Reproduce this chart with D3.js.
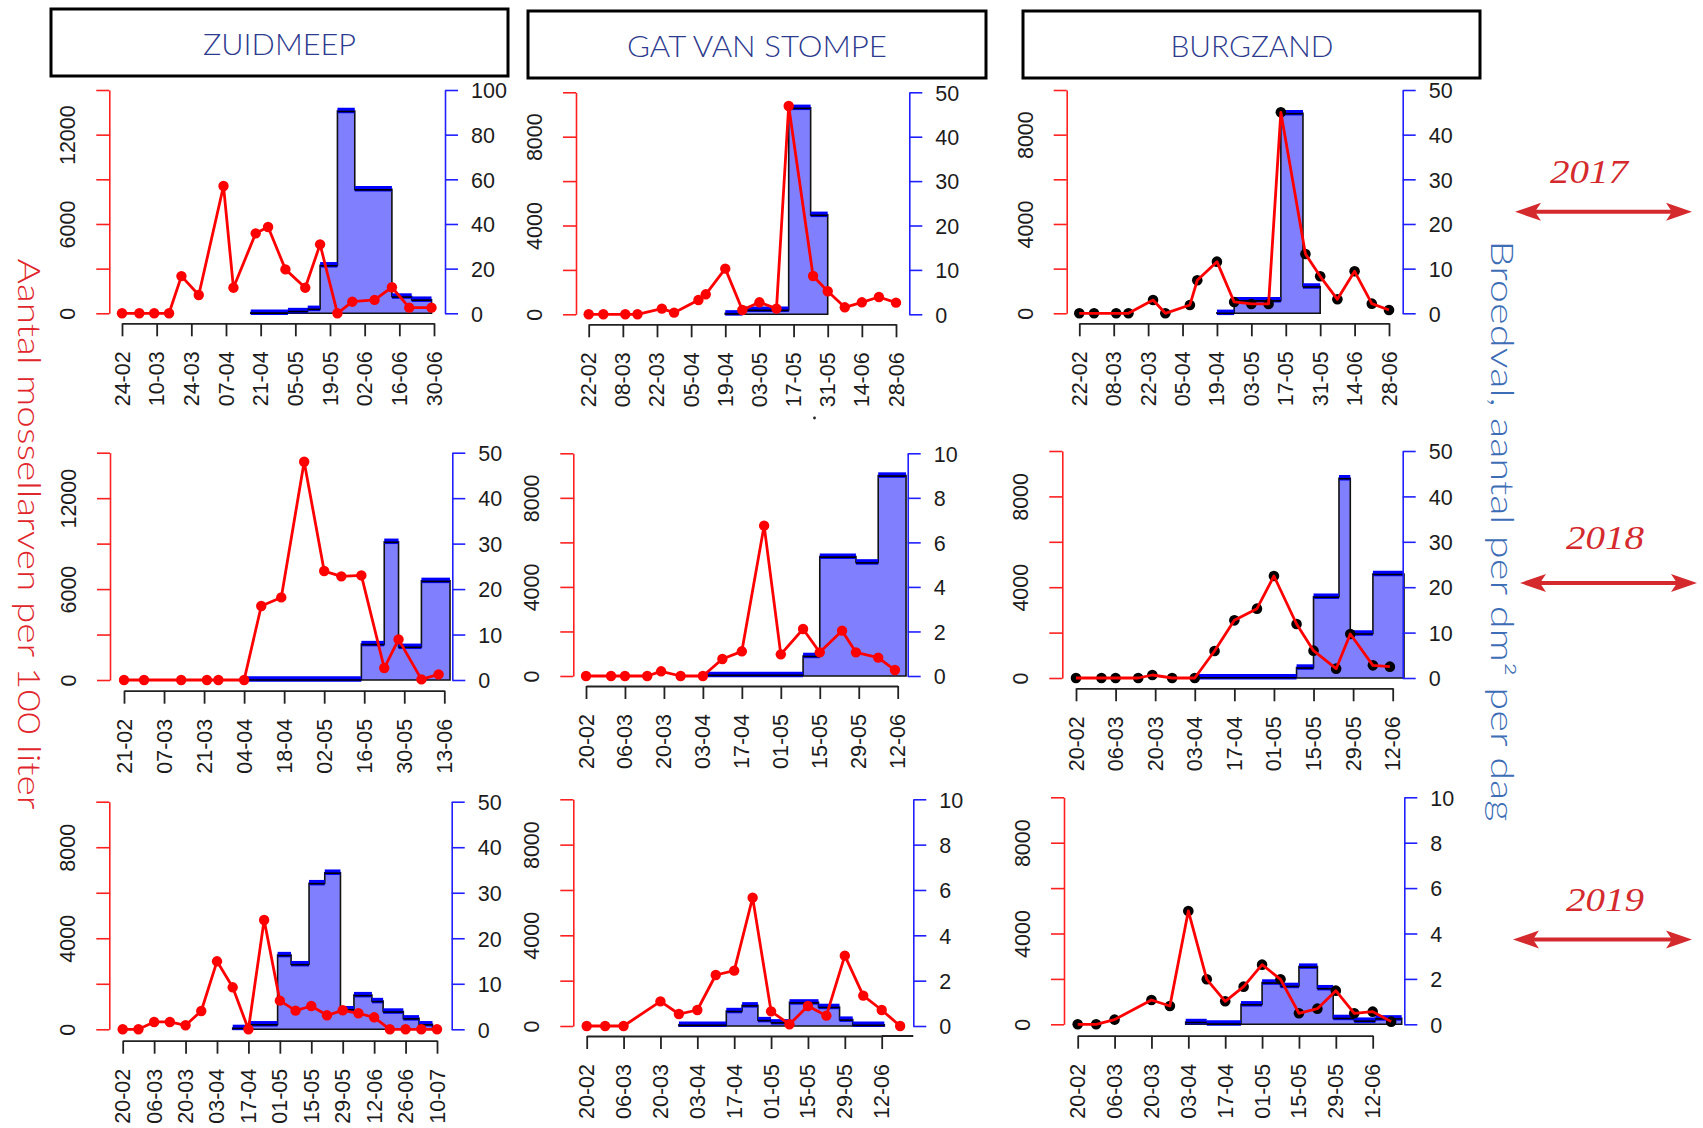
<!DOCTYPE html>
<html><head><meta charset="utf-8">
<script src="https://cdn.jsdelivr.net/npm/d3@7"></script>
<style>body{margin:0;background:#fff}svg{display:block}</style>
</head><body>
<svg id="chart" width="1703" height="1128"></svg>
<script>
// ---------- DATA ----------
const sites = ["ZUIDMEEP", "GAT VAN STOMPE", "BURGZAND"];
const years = ["2017", "2018", "2019"];
const leftTitle = "Aantal mossellarven per 100 liter";
const rightTitle = "Broedval, aantal per dm\u00B2 per dag";

const redTicks15 = [0, 3000, 6000, 9000, 12000, 15000];
const redLabels15 = [0, 6000, 12000];
const redTicks10 = [0, 2000, 4000, 6000, 8000, 10000];
const redLabels10 = [0, 4000, 8000];
const blueTicks100 = [0, 20, 40, 60, 80, 100];
const blueTicks50 = [0, 10, 20, 30, 40, 50];
const blueTicks10 = [0, 2, 4, 6, 8, 10];

// 2017
const zm17Ticks = ["24-02","10-03","24-03","07-04","21-04","05-05","19-05","02-06","16-06","30-06"];
const zm17Dates = ["24-02","03-03","09-03","15-03","20-03","27-03","06-04","10-04","19-04","24-04","01-05","09-05","15-05","22-05","28-05","06-06","13-06","20-06","29-06"];
const zm17Larvae = [0,0,0,0,2500,1230,8550,1720,5370,5800,2950,1720,4630,0,780,900,1750,380,380];
const zm17SpatBreaks = ["17-04","02-05","10-05","15-05","22-05","29-05","13-06","21-06","29-06"];
const zm17Spat = [0.3,1,2,21.5,90.6,55.5,7.5,6.1];

const gvs17Ticks = ["22-02","08-03","22-03","05-04","19-04","03-05","17-05","31-05","14-06","28-06"];
const gvs17Dates = ["22-02","28-02","09-03","14-03","24-03","29-03","08-04","11-04","19-04","26-04","03-05","10-05","15-05","25-05","31-05","07-06","14-06","21-06","28-06"];
const gvs17Larvae = [0,0,0,0,255,75,645,900,2057,195,540,255,9384,1727,1036,315,540,780,525];
const gvs17SpatBreaks = ["19-04","26-04","15-05","24-05","31-05"];
const gvs17Spat = [0.2,1,46.5,22.4];

const bz17Ticks = ["22-02","08-03","22-03","05-04","19-04","03-05","17-05","31-05","14-06","28-06"];
const bz17Dates = ["22-02","28-02","09-03","14-03","24-03","29-03","08-04","11-04","19-04","26-04","03-05","10-05","15-05","25-05","31-05","07-06","14-06","21-06","28-06"];
const bz17Larvae = [0,0,0,0,597,0,373,1478,2313,507,418,418,9000,2657,1657,627,1881,433,149];
const bz17SpatBreaks = ["19-04","26-04","15-05","24-05","31-05"];
const bz17Spat = [0.1,2.9,44.8,6.0];

// 2018
const zm18Ticks = ["21-02","07-03","21-03","04-04","18-04","02-05","16-05","30-05","13-06"];
const zm18Dates = ["21-02","28-02","13-03","22-03","26-03","04-04","10-04","17-04","25-04","02-05","08-05","15-05","23-05","28-05","05-06","11-06"];
const zm18Larvae = [0,0,0,0,0,0,4880,5450,14400,7190,6840,6900,790,2680,40,370];
const zm18SpatBreaks = ["04-04","15-05","23-05","28-05","05-06","15-06"];
const zm18Spat = [0.1,7.9,30.4,7.3,21.8];

const gvs18Ticks = ["20-02","06-03","20-03","03-04","17-04","01-05","15-05","29-05","12-06"];
const gvs18Dates = ["20-02","01-03","06-03","14-03","19-03","26-03","03-04","10-04","17-04","25-04","01-05","09-05","15-05","23-05","28-05","05-06","11-06"];
const gvs18Larvae = [0,0,0,0,210,0,0,763,1108,6751,973,2111,1063,2036,1063,823,269];
const gvs18SpatBreaks = ["04-04","09-05","15-05","28-05","05-06","15-06"];
const gvs18Spat = [0.05,0.9,5.36,5.1,9.0];

const bz18Ticks = ["20-02","06-03","20-03","03-04","17-04","01-05","15-05","29-05","12-06"];
const bz18Dates = ["20-02","01-03","06-03","14-03","19-03","26-03","03-04","10-04","17-04","25-04","01-05","09-05","15-05","23-05","28-05","05-06","11-06"];
const bz18Larvae = [0,0,0,0,132,0,0,1189,2540,3054,4493,2379,1204,411,1938,558,499];
const bz18SpatBreaks = ["03-04","09-05","15-05","24-05","28-05","05-06","16-06"];
const bz18Spat = [0.15,2.3,17.9,44,9.8,22.9];

// 2019
const zm19Ticks = ["20-02","06-03","20-03","03-04","17-04","01-05","15-05","29-05","12-06","26-06","10-07"];
const zm19Dates = ["20-02","27-02","06-03","13-03","20-03","27-03","03-04","10-04","17-04","24-04","01-05","08-05","15-05","22-05","29-05","05-06","12-06","19-06","26-06","03-07","10-07"];
const zm19Larvae = [0,0,322,322,176,805,2987,1845,0,4802,1259,820,1025,615,835,703,527,0,0,0,0];
const zm19SpatBreaks = ["10-04","17-04","30-04","06-05","14-05","21-05","28-05","03-06","11-06","16-06","25-06","02-07","08-07"];
const zm19Spat = [0.3,1.1,16.3,14.3,32.1,34.4,4.4,7.5,6.2,3.9,2.4,1.1];

const gvs19Ticks = ["20-02","06-03","20-03","03-04","17-04","01-05","15-05","29-05","12-06"];
const gvs19Dates = ["20-02","27-02","06-03","20-03","27-03","03-04","10-04","17-04","24-04","01-05","08-05","15-05","22-05","29-05","05-06","12-06","19-06"];
const gvs19Larvae = [0,0,0,1088,529,706,2250,2441,5662,647,74,882,456,3103,1338,706,0];
const gvs19SpatBreaks = ["27-03","14-04","20-04","26-04","01-05","08-05","19-05","27-05","01-06","13-06"];
const gvs19Spat = [0.05,0.66,0.91,0.26,0.16,1.04,0.84,0.28,0.05];

const bz19Ticks = ["20-02","06-03","20-03","03-04","17-04","01-05","15-05","29-05","12-06"];
const bz19Dates = ["20-02","27-02","06-03","20-03","27-03","03-04","10-04","17-04","24-04","01-05","08-05","15-05","22-05","29-05","05-06","12-06","19-06"];
const bz19Larvae = [0,0,206,1072,808,4993,1982,1013,1659,2628,1982,485,690,1483,485,558,117];
const bz19SpatBreaks = ["02-04","10-04","23-04","01-05","08-05","15-05","22-05","28-05","05-06","13-06","23-06"];
const bz19Spat = [0.1,0.03,0.88,1.84,1.69,2.54,1.59,0.28,0.16,0.26];

// ---------- LAYOUT ----------
const panels = [
  {year:2017, ticks:zm17Ticks, dates:zm17Dates, larvae:zm17Larvae, breaks:zm17SpatBreaks, spat:zm17Spat,
   left:109.3, right:445, top:90, y0:313.3, axisY:323.3, x1:122, x2:434, rT:redTicks15, rL:redLabels15, bT:blueTicks100, black:false},
  {year:2017, ticks:gvs17Ticks, dates:gvs17Dates, larvae:gvs17Larvae, breaks:gvs17SpatBreaks, spat:gvs17Spat,
   left:576, right:909.3, top:92.3, y0:314.3, axisY:324.3, x1:588.7, x2:896, rT:redTicks10, rL:redLabels10, bT:blueTicks50, black:false},
  {year:2017, ticks:bz17Ticks, dates:bz17Dates, larvae:bz17Larvae, breaks:bz17SpatBreaks, spat:bz17Spat,
   left:1066.7, right:1402.7, top:90, y0:313.3, axisY:323.3, x1:1079.3, x2:1389, rT:redTicks10, rL:redLabels10, bT:blueTicks50, black:true},
  {year:2018, ticks:zm18Ticks, dates:zm18Dates, larvae:zm18Larvae, breaks:zm18SpatBreaks, spat:zm18Spat,
   left:110, right:452.3, top:452.7, y0:680, axisY:690.7, x1:124, x2:444.3, rT:redTicks15, rL:redLabels15, bT:blueTicks50, black:false},
  {year:2018, ticks:gvs18Ticks, dates:gvs18Dates, larvae:gvs18Larvae, breaks:gvs18SpatBreaks, spat:gvs18Spat,
   left:573.3, right:907.7, top:453.3, y0:676, axisY:686, x1:586, x2:897.7, rT:redTicks10, rL:redLabels10, bT:blueTicks10, black:false},
  {year:2018, ticks:bz18Ticks, dates:bz18Dates, larvae:bz18Larvae, breaks:bz18SpatBreaks, spat:bz18Spat,
   left:1062.3, right:1402.7, top:451, y0:678, axisY:688.3, x1:1076, x2:1392.7, rT:redTicks10, rL:redLabels10, bT:blueTicks50, black:true},
  {year:2019, ticks:zm19Ticks, dates:zm19Dates, larvae:zm19Larvae, breaks:zm19SpatBreaks, spat:zm19Spat,
   left:109.3, right:451.7, top:801.7, y0:1029.3, axisY:1040.7, x1:122.7, x2:437, rT:redTicks10, rL:redLabels10, bT:blueTicks50, black:false},
  {year:2019, ticks:gvs19Ticks, dates:gvs19Dates, larvae:gvs19Larvae, breaks:gvs19SpatBreaks, spat:gvs19Spat,
   left:573.3, right:913.3, top:799.3, y0:1026, axisY:1036, x1:586.7, x2:881.7, rT:redTicks10, rL:redLabels10, bT:blueTicks10, black:false, axisToRight:true},
  {year:2019, ticks:bz19Ticks, dates:bz19Dates, larvae:bz19Larvae, breaks:bz19SpatBreaks, spat:bz19Spat,
   left:1064, right:1404.3, top:797.3, y0:1024.3, axisY:1035.7, x1:1077.7, x2:1372.7, rT:redTicks10, rL:redLabels10, bT:blueTicks10, black:true}
];

const svg = d3.select("#chart");
const tp = d3.timeParse("%d-%m-%Y");
const fmt = d3.timeFormat("%d-%m");
const TICKFONT = "'Liberation Sans', Arial, sans-serif";
const TFS = 21.5;
const TXT = "#1c1c1c";

panels.forEach(p => {
  const P = s => tp(s + "-" + p.year);
  const g = svg.append("g");
  const tickDates = p.ticks.map(P);
  const x = d3.scaleTime().domain([tickDates[0], tickDates[tickDates.length - 1]]).range([p.x1, p.x2]);
  const yR = d3.scaleLinear().domain([0, d3.max(p.rT)]).range([p.y0, p.top]);
  const yB = d3.scaleLinear().domain([0, d3.max(p.bT)]).range([p.y0, p.top]);

  // spat histogram (step polygon)
  const br = p.breaks.map(P);
  const pts = [[x(br[0]), yB(0)]];
  p.spat.forEach((v, i) => { pts.push([x(br[i]), yB(v)]); pts.push([x(br[i + 1]), yB(v)]); });
  pts.push([x(br[br.length - 1]), yB(0)]);
  g.append("path").attr("d", d3.line()(pts) + "Z")
    .attr("fill", "#8080ff").attr("stroke", "#111").attr("stroke-width", 1.6);
  p.spat.forEach((v, i) => {
    g.append("line").attr("x1", x(br[i])).attr("x2", x(br[i + 1])).attr("y1", yB(v) - 0.5).attr("y2", yB(v) - 0.5)
      .attr("stroke", "#0000ff").attr("stroke-width", 5.5);
    g.append("line").attr("x1", x(br[i])).attr("x2", x(br[i + 1])).attr("y1", yB(v) + 0.5).attr("y2", yB(v) + 0.5)
      .attr("stroke", "#000").attr("stroke-width", 1.6);
  });

  // larvae line + points
  const dd = p.dates.map(P);
  const lp = dd.map((d, i) => [x(d), yR(p.larvae[i])]);
  const line = d3.line();
  if (p.black) {
    g.selectAll(null).data(lp).enter().append("circle")
      .attr("cx", d => d[0]).attr("cy", d => d[1]).attr("r", 5.3).attr("fill", "#000");
    g.append("path").attr("d", line(lp)).attr("fill", "none").attr("stroke", "#ff0000").attr("stroke-width", 2.8).attr("stroke-linejoin", "round");
  } else {
    g.append("path").attr("d", line(lp)).attr("fill", "none").attr("stroke", "#ff0000").attr("stroke-width", 2.8).attr("stroke-linejoin", "round");
    g.selectAll(null).data(lp).enter().append("circle")
      .attr("cx", d => d[0]).attr("cy", d => d[1]).attr("r", 5.2).attr("fill", "#ff0000");
  }

  // left (red) axis
  const ra = g.append("g").attr("transform", `translate(${p.left},0)`)
    .call(d3.axisLeft(yR).tickValues(p.rT).tickSize(13).tickSizeOuter(0)
      .tickFormat(d => p.rL.includes(d) ? String(d) : ""));
  ra.select(".domain").attr("stroke", "#ff2020").attr("stroke-width", 1.6);
  ra.selectAll(".tick line").attr("stroke", "#ff2020").attr("stroke-width", 1.6);
  ra.selectAll(".tick text").attr("x", null).attr("dy", null).attr("text-anchor", "middle")
    .attr("dominant-baseline", "central")
    .attr("transform", "translate(-41,0) rotate(-90)")
    .attr("font-family", TICKFONT).attr("font-size", TFS).attr("fill", TXT);

  // right (blue) axis
  const ba = g.append("g").attr("transform", `translate(${p.right},0)`)
    .call(d3.axisRight(yB).tickValues(p.bT).tickSize(13).tickSizeOuter(0).tickPadding(13).tickFormat(d3.format("d")));
  ba.select(".domain").attr("stroke", "#2020ff").attr("stroke-width", 1.6);
  ba.selectAll(".tick line").attr("stroke", "#2020ff").attr("stroke-width", 1.6);
  ba.selectAll(".tick text").attr("font-family", TICKFONT).attr("font-size", TFS).attr("fill", TXT).attr("dy", "0.36em");

  // bottom (date) axis
  const xa = g.append("g").attr("transform", `translate(0,${p.axisY})`)
    .call(d3.axisBottom(x).tickValues(tickDates).tickSize(13).tickSizeOuter(0).tickFormat(fmt));
  xa.select(".domain").attr("stroke", "#222").attr("stroke-width", 1.8);
  xa.selectAll(".tick line").attr("stroke", "#222").attr("stroke-width", 1.8);
  xa.selectAll(".tick text").attr("y", null).attr("dy", null).attr("text-anchor", "end")
    .attr("dominant-baseline", "central")
    .attr("transform", "translate(0,28) rotate(-90)")
    .attr("font-family", TICKFONT).attr("font-size", TFS).attr("fill", TXT);
  if (p.axisToRight) {
    xa.append("line").attr("x1", p.x2).attr("x2", p.right).attr("y1", 0).attr("y2", 0)
      .attr("stroke", "#222").attr("stroke-width", 1.8);
  }
});

// stray dot under middle top panel
svg.append("circle").attr("cx", 814.5).attr("cy", 418).attr("r", 1.4).attr("fill", "#222");

// header boxes
const boxes = [
  {x: 51, y: 9, w: 457, h: 67, tx: 279.5, ty: 43.5, len: 153},
  {x: 528, y: 11, w: 458, h: 67, tx: 757, ty: 45.5, len: 260},
  {x: 1023, y: 11, w: 457, h: 67, tx: 1252, ty: 45.5, len: 163}
];
boxes.forEach((b, i) => {
  svg.append("rect").attr("x", b.x).attr("y", b.y).attr("width", b.w).attr("height", b.h)
    .attr("fill", "#fff").attr("stroke", "#000").attr("stroke-width", 3);
  svg.append("text").attr("x", b.tx).attr("y", b.ty).attr("text-anchor", "middle")
    .attr("dominant-baseline", "central")
    .attr("font-family", "Lato, 'Open Sans', sans-serif").attr("font-size", 29).attr("font-weight", 300)
    .attr("fill", "#2d3b8e").attr("textLength", b.len).attr("lengthAdjust", "spacingAndGlyphs")
    .text(sites[i]);
});

// axis titles
svg.append("text").attr("transform", "translate(29.5,534) rotate(90)")
  .attr("text-anchor", "middle").attr("dominant-baseline", "central")
  .attr("font-family", "Lato, 'Open Sans', sans-serif").attr("font-size", 31).attr("font-weight", 300)
  .attr("fill", "#e0262b").attr("textLength", 551).attr("lengthAdjust", "spacingAndGlyphs")
  .text(leftTitle);
svg.append("text").attr("transform", "translate(1503,531) rotate(90)")
  .attr("text-anchor", "middle").attr("dominant-baseline", "central")
  .attr("font-family", "Lato, 'Open Sans', sans-serif").attr("font-size", 31).attr("font-weight", 300)
  .attr("fill", "#3d6db5").attr("textLength", 581).attr("lengthAdjust", "spacingAndGlyphs")
  .text(rightTitle);

// year labels + arrows
const yearMarks = [
  {tx: 1589, ty: 171.6, ax1: 1515, ax2: 1692, ay: 211.8},
  {tx: 1605, ty: 537.6, ax1: 1520, ax2: 1697, ay: 583},
  {tx: 1605, ty: 900.4, ax1: 1513, ax2: 1692, ay: 939.5}
];
const ARED = "#d42a2e";
yearMarks.forEach((m, i) => {
  svg.append("text").attr("x", m.tx).attr("y", m.ty).attr("text-anchor", "middle")
    .attr("dominant-baseline", "central")
    .attr("font-family", "'Liberation Serif', 'DejaVu Serif', serif").attr("font-style", "italic")
    .attr("font-size", 33).attr("fill", ARED).attr("textLength", 78).attr("lengthAdjust", "spacingAndGlyphs")
    .text(years[i]);
  svg.append("line").attr("x1", m.ax1 + 15).attr("x2", m.ax2 - 15).attr("y1", m.ay).attr("y2", m.ay)
    .attr("stroke", ARED).attr("stroke-width", 4);
  const hl = 26, hw = 9, notch = 20;
  svg.append("path").attr("d", `M${m.ax1},${m.ay} L${m.ax1 + hl},${m.ay - hw} L${m.ax1 + notch},${m.ay} L${m.ax1 + hl},${m.ay + hw} Z`).attr("fill", ARED);
  svg.append("path").attr("d", `M${m.ax2},${m.ay} L${m.ax2 - hl},${m.ay - hw} L${m.ax2 - notch},${m.ay} L${m.ax2 - hl},${m.ay + hw} Z`).attr("fill", ARED);
});
</script>
</body></html>
